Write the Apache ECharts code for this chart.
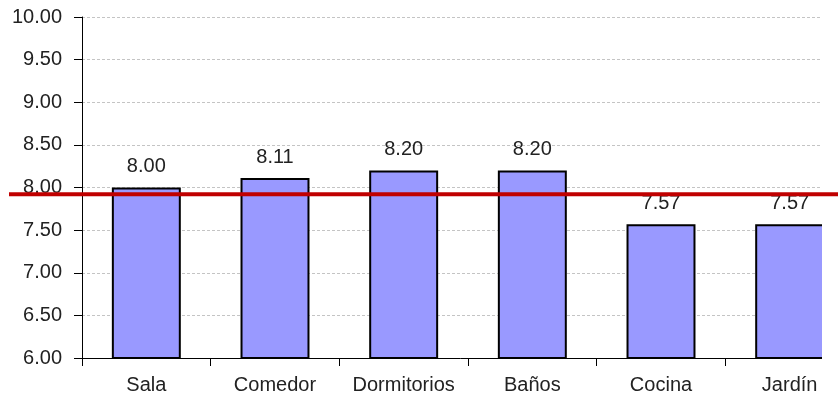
<!DOCTYPE html>
<html>
<head>
<meta charset="utf-8">
<script src="https://cdn.jsdelivr.net/npm/echarts@6/dist/echarts.min.js"></script>
<style>
  html, body { margin: 0; padding: 0; background: #fff; }
  #chart { width: 838px; height: 395px; }
</style>
</head>
<body>
<div id="chart"></div>
<script>
// Rooms and their average scores
const categories = ['Sala', 'Comedor', 'Dormitorios', 'Baños', 'Cocina', 'Jardín'];
const scores = [8.00, 8.11, 8.20, 8.20, 7.57, 7.57];
// Overall average drawn as a red reference line
const overallAverage = 7.92;
// Value axis range
const yMin = 6;
const yMax = 10;
const yStep = 0.5;

const FONT = '"Liberation Sans", Arial, sans-serif';
const chart = echarts.init(document.getElementById('chart'), null, { renderer: 'canvas' });

chart.setOption({
  animation: false,
  backgroundColor: '#ffffff',
  // plot area runs past the right edge of the canvas
  grid: {
    left: 82, width: 772, top: 17, height: 341,
    containLabel: false, outerBoundsMode: 'none'
  },
  xAxis: {
    type: 'category',
    data: categories,
    boundaryGap: true,
    axisLine: { lineStyle: { color: '#000', width: 1 } },
    axisTick: { show: true, interval: 0, length: 8, alignWithLabel: false, lineStyle: { color: '#000' } },
    axisLabel: { interval: 0, color: '#222', fontFamily: FONT, fontSize: 20, margin: 17 }
  },
  yAxis: {
    type: 'value',
    min: yMin,
    max: yMax,
    interval: yStep,
    axisLine: { show: true, lineStyle: { color: '#000', width: 1 } },
    axisTick: { show: true, length: 8, lineStyle: { color: '#000' } },
    axisLabel: {
      color: '#222', fontFamily: FONT, fontSize: 20, margin: 20,
      formatter: v => v.toFixed(2)
    },
    splitLine: { show: true, lineStyle: { color: '#c4c4c4', type: [3, 2], width: 1 } }
  },
  series: [{
    type: 'bar',
    data: scores,
    barWidth: '53.6%',
    itemStyle: { color: '#9999ff', borderColor: '#000', borderWidth: 2 },
    label: {
      show: true,
      position: 'top',
      distance: 11,
      color: '#222',
      fontFamily: FONT,
      fontSize: 20,
      formatter: p => p.value.toFixed(2)
    }
  }]
});

// Blank strip at the right edge, then the overall-average line across the plot
const yAvg = chart.convertToPixel({ yAxisIndex: 0 }, overallAverage);
chart.setOption({
  graphic: [
    {
      type: 'rect',
      shape: { x: 822, y: 0, width: 16, height: 395 },
      style: { fill: '#ffffff' },
      z: 50
    },
    {
      type: 'line',
      shape: { x1: 9, y1: yAvg, x2: 838, y2: yAvg },
      style: { stroke: '#c00000', lineWidth: 4 },
      z: 100
    }
  ]
});
</script>
</body>
</html>
